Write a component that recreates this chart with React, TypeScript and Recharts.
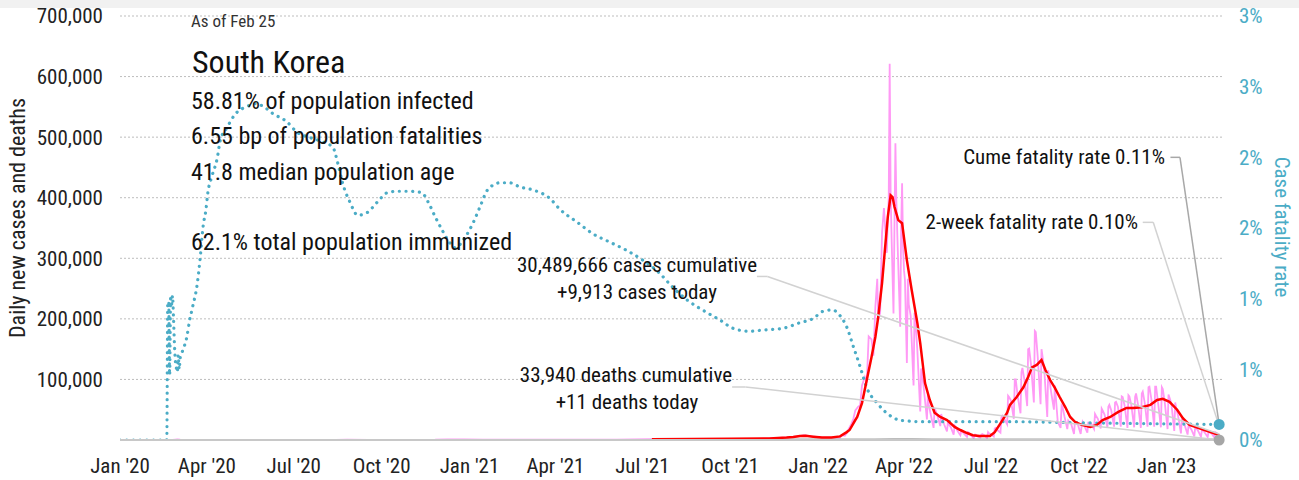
import React from "react";
import { LineChart, Line, XAxis, YAxis, CartesianGrid, ReferenceLine, ReferenceDot } from "recharts";

const FONT = "'Liberation Sans Narrow', 'Arial Narrow', 'Roboto Condensed', 'DejaVu Sans Condensed', sans-serif";
const BLUE = "#4bacc6";
const PINK = "#ff99f5";
const RED = "#ff0000";
const GREY = "#a6a6a6";
const LEADER = "#d2d2d2";
const LEADER_DARK = "#a8a8a8";

// x = days since 2020-01-01
const xTickDays = [0, 91, 182, 274, 366, 456, 547, 639, 731, 821, 912, 1004, 1096];
const xTickLabels = ["Jan '20", "Apr '20", "Jul '20", "Oct '20", "Jan '21", "Apr '21", "Jul '21", "Oct '21", "Jan '22", "Apr '22", "Jul '22", "Oct '22", "Jan '23"];
const leftTicks = [100000, 200000, 300000, 400000, 500000, 600000, 700000];
const rightTicks = [0, 0.5, 1, 1.5, 2, 2.5, 3];
const rightTickLabels = ["0%", "1%", "1%", "2%", "2%", "3%", "3%"];

// cumulative case fatality rate (%)
const cfrPoints: [number, number][] = [
  [0, 0], [49, 0], [50, 0.96], [51, 0.98], [52, 0.46], [53, 1.0], [54, 0.96], [55, 1.02], [56, 0.87], [57, 0.68], [58, 0.56],
  [59, 0.51], [60, 0.48], [61, 0.6], [62, 0.5], [63, 0.58], [65, 0.62], [70, 0.73], [73, 0.85], [76, 0.94], [81, 1.11],
  [84, 1.29], [87, 1.51], [90, 1.63], [92, 1.75], [96, 1.86], [102, 2.0], [105, 2.12], [112, 2.21], [120, 2.3], [133, 2.36],
  [143, 2.38], [150, 2.36], [160, 2.31], [175, 2.25], [185, 2.18], [199, 2.14], [212, 2.11], [223, 2.07], [228, 1.96],
  [233, 1.82], [241, 1.68], [249, 1.59], [259, 1.61], [269, 1.68], [280, 1.75], [290, 1.76], [304, 1.76], [316, 1.75],
  [323, 1.68], [330, 1.58], [337, 1.49], [346, 1.39], [351, 1.36], [361, 1.43], [370, 1.54], [377, 1.65], [385, 1.77],
  [398, 1.82], [408, 1.82], [419, 1.79], [432, 1.77], [450, 1.71], [461, 1.63], [479, 1.54], [495, 1.46], [513, 1.4],
  [531, 1.34], [548, 1.27], [565, 1.18], [579, 1.08], [594, 0.99], [610, 0.92], [628, 0.85], [642, 0.79], [658, 0.77],
  [677, 0.78], [694, 0.79], [712, 0.83], [726, 0.86], [736, 0.91], [746, 0.92], [754, 0.88], [761, 0.8], [768, 0.66],
  [775, 0.52], [782, 0.37], [793, 0.26], [803, 0.19], [817, 0.14], [838, 0.13], [921, 0.13], [1026, 0.12], [1151, 0.11],
];

// daily new cases
const casesDaily: [number, number][] = [
  [0, 0], [49, 0], [50, 70], [55, 250], [58, 600], [60, 900], [63, 500], [68, 350], [75, 100], [100, 40], [150, 40], [200, 50],
  [226, 200], [238, 400], [260, 100], [300, 100], [330, 400], [343, 1000], [360, 1000], [380, 500], [420, 450], [470, 650],
  [520, 550], [557, 1300], [585, 2000], [600, 1900], [630, 2000], [660, 1500], [680, 2600], [700, 4500], [712, 6500],
  [716, 7800], [724, 6000], [735, 4200], [745, 4000], [750, 4400],
  [754, 4000], [756, 8000], [759, 7000], [761, 11000], [763, 18000], [766, 27000], [768, 35000], [770, 49000], [773, 55000],
  [775, 57000], [777, 90000], [780, 104000], [782, 95000], [784, 171000], [787, 166000], [789, 139000], [791, 220000],
  [793, 266000], [794, 198000], [796, 210000], [798, 342000], [800, 383000], [803, 309000], [804, 362000], [805, 400000],
  [806, 621000], [807, 407000], [808, 334000], [810, 209000], [811, 353000], [812, 490000], [813, 395000], [814, 339000],
  [817, 187000], [818, 347000], [819, 424000], [820, 320000], [821, 280000], [822, 264000], [824, 127000], [825, 266000],
  [826, 224000], [828, 205000], [831, 90000], [832, 210000], [833, 195000], [835, 148000], [838, 47000], [839, 118000],
  [840, 111000], [842, 81000], [845, 34000], [846, 76000], [847, 57000], [849, 42000], [852, 20000], [853, 51000],
  [854, 49000], [856, 40000], [859, 23000], [860, 43000], [861, 35000], [863, 26000], [866, 14000], [867, 30000],
  [868, 26000], [870, 21000], [873, 9000], [874, 24000], [875, 22000], [877, 15000], [880, 8000], [881, 15000],
  [882, 14000], [884, 10000], [887, 5000], [888, 13000], [889, 12000], [891, 8000], [894, 3000], [895, 9000], [896, 9000],
  [898, 6000], [901, 4000], [902, 9000], [903, 10000], [905, 8000], [908, 3000], [909, 13000], [910, 11000], [912, 10000],
  [915, 6000], [916, 19000], [917, 20000], [919, 16000], [922, 12000], [923, 37000], [924, 40000], [926, 35000],
  [929, 26000], [930, 73000], [931, 71000], [933, 65000], [936, 35000], [937, 100000], [938, 100000], [940, 73000],
  [943, 44000], [944, 112000], [945, 119000], [947, 100000], [950, 56000], [951, 150000], [952, 151000], [954, 125000],
  [957, 62000], [958, 180000], [959, 178000], [961, 138000], [964, 59000], [965, 150000], [966, 139000], [968, 113000],
  [971, 38000], [972, 115000], [973, 103000], [975, 80000], [978, 50000], [979, 90000], [980, 70000], [982, 30000],
  [985, 20000], [986, 57000], [987, 55000], [989, 39000], [992, 18000], [993, 32000], [994, 30000], [996, 27000],
  [999, 10000], [1000, 30000], [1001, 28000], [1003, 26000], [1006, 10000], [1007, 23000], [1008, 30000], [1010, 23000],
  [1013, 12000], [1014, 30000], [1015, 26000], [1017, 27000], [1020, 18000], [1021, 43000], [1022, 40000], [1024, 35000],
  [1027, 19000], [1028, 52000], [1029, 49000], [1031, 42000], [1034, 21000], [1035, 55000], [1036, 58000], [1038, 49000],
  [1041, 22000], [1042, 62000], [1043, 63000], [1045, 55000], [1048, 22000], [1049, 72000], [1050, 71000], [1052, 57000],
  [1055, 20000], [1056, 74000], [1057, 72000], [1059, 58000], [1062, 21000], [1063, 71000], [1064, 77000], [1066, 59000],
  [1069, 20000], [1070, 77000], [1071, 80000], [1073, 62000], [1076, 22000], [1077, 87000], [1078, 88000], [1080, 68000],
  [1083, 22000], [1084, 88000], [1085, 88000], [1087, 62000], [1090, 21000], [1091, 87000], [1092, 84000], [1094, 63000],
  [1097, 18000], [1098, 75000], [1099, 70000], [1101, 60000], [1104, 15000], [1105, 62000], [1106, 53000], [1108, 40000],
  [1111, 11000], [1112, 35000], [1113, 30000], [1115, 24000], [1118, 9000], [1119, 25000], [1120, 22000], [1122, 17000],
  [1125, 6000], [1126, 22000], [1127, 20000], [1129, 15000], [1132, 5000], [1133, 17000], [1134, 16000], [1136, 12000],
  [1139, 5000], [1140, 14000], [1141, 13000], [1143, 11000], [1146, 4000], [1147, 13000], [1148, 12000], [1150, 10000],
  [1151, 9913],
];

// 7-day average of new cases
const casesAvg: [number, number][] = [
  [557, 1200], [600, 1700], [640, 2000], [680, 2600], [698, 4000], [705, 5000], [712, 6500], [718, 7000], [726, 5500],
  [735, 4000], [745, 4000], [754, 6000], [761, 13000], [764, 16500], [770, 33000], [772, 38000], [777, 61000], [782, 99000],
  [787, 137000], [791, 170000], [794, 203000], [798, 259000], [801, 314000], [804, 368000], [807, 404000], [809, 401000],
  [811, 385000], [815, 363000], [819, 358000], [824, 297000], [829, 248000], [835, 193000], [838, 160000], [843, 94000],
  [848, 66000], [853, 45000], [859, 38000], [866, 33000], [874, 21500], [880, 16500], [887, 11500], [893, 8000],
  [900, 6600], [911, 6600], [916, 13000], [921, 25000], [929, 45000], [932, 58000], [939, 71000], [946, 87000],
  [951, 104000], [955, 120000], [960, 124000], [965, 132000], [969, 116000], [974, 99000], [979, 86000], [984, 71000],
  [990, 54000], [995, 38000], [1000, 30000], [1007, 25000], [1016, 21500], [1023, 25000], [1029, 33000], [1037, 38000],
  [1045, 46000], [1054, 53000], [1061, 53000], [1070, 54000], [1079, 58000], [1086, 66000], [1092, 68000], [1099, 63000],
  [1107, 50000], [1113, 36000], [1120, 25000], [1129, 20000], [1138, 15000], [1145, 11500], [1151, 8000],
];

// daily deaths and their 7-day average
const deathsDaily: [number, number][] = [
  [0, 0], [50, 1], [60, 5], [100, 2], [240, 5], [350, 20], [365, 25], [420, 5], [557, 2], [640, 10], [700, 60], [720, 70],
  [740, 40], [790, 120], [805, 330], [815, 350], [830, 250], [850, 80], [880, 20], [930, 15], [960, 60], [980, 55],
  [1000, 30], [1060, 45], [1090, 55], [1120, 25], [1151, 11],
];
const deathsAvg: [number, number][] = [
  [557, 2], [640, 10], [700, 55], [720, 65], [740, 40], [790, 110], [810, 320], [830, 250], [850, 80], [880, 20],
  [930, 15], [960, 60], [980, 55], [1000, 30], [1060, 45], [1090, 55], [1120, 25], [1151, 11],
];

const toRows = (pts: [number, number][]) => pts.map(([d, v]) => ({ d, v }));

const W = 1299;
const H = 480;

type TxtProps = { x: number; y: number; size: number; anchor?: "start" | "middle" | "end"; color?: string; children: React.ReactNode };
const Txt = ({ x, y, size, anchor = "start", color = "#111", children }: TxtProps) => {
  const style: React.CSSProperties = {
    position: "absolute",
    top: y - size * 0.49,
    fontSize: size,
    lineHeight: 1,
    fontFamily: FONT,
    color,
    whiteSpace: "nowrap",
  };
  if (anchor === "start") style.left = x;
  else if (anchor === "end") style.right = W - x;
  else {
    style.left = x;
    style.transform = "translateX(-50%)";
  }
  return <div style={style}>{children}</div>;
};

const VTxt = ({ x, y, size, angle, color, children }: { x: number; y: number; size: number; angle: number; color: string; children: React.ReactNode }) => (
  <div
    style={{
      position: "absolute",
      left: x,
      top: y,
      transform: `translate(-50%, -50%) rotate(${angle}deg)`,
      fontSize: size,
      lineHeight: 1,
      fontFamily: FONT,
      color,
      whiteSpace: "nowrap",
    }}
  >
    {children}
  </div>
);

const fmtThousands = (v: number) => v.toLocaleString("en-US");

export default function App() {
  const tickStyle = { fontSize: 21, fill: "#222", fontFamily: FONT };
  return (
    <div style={{ position: "absolute", left: 0, top: 0, width: W, height: H, background: "#fff", overflow: "hidden" }}>
      <LineChart width={W} height={H} margin={{ top: 16, right: 0, bottom: 0, left: 0 }}>
        <CartesianGrid vertical={false} yAxisId="left" stroke="#bdbdbd" strokeDasharray="2 2" />
        <XAxis
          type="number"
          dataKey="d"
          domain={[0, 1154]}
          ticks={xTickDays}
          interval={0}
          tickFormatter={(v: number) => xTickLabels[xTickDays.indexOf(v)]}
          axisLine={{ stroke: "#c8c8c8", strokeWidth: 2 }}
          tickLine={false}
          tickSize={0}
          tickMargin={18}
          height={40}
          tick={tickStyle}
          allowDataOverflow
        />
        <YAxis
          yAxisId="left"
          domain={[0, 700000]}
          ticks={leftTicks}
          interval={0}
          tickFormatter={fmtThousands}
          axisLine={false}
          tickLine={false}
          tickSize={0}
          tickMargin={17}
          width={120}
          tick={tickStyle}
          allowDataOverflow
        />
        <YAxis
          yAxisId="right"
          orientation="right"
          domain={[0, 3]}
          ticks={rightTicks}
          interval={0}
          tickFormatter={(v: number) => rightTickLabels[rightTicks.indexOf(v)]}
          axisLine={false}
          tickLine={false}
          tickSize={0}
          tickMargin={17}
          width={77}
          tick={{ ...tickStyle, fill: BLUE }}
          allowDataOverflow
        />
        <Line data={toRows(deathsDaily)} dataKey="v" yAxisId="left" type="linear" stroke="#bdbdbd" strokeWidth={1} dot={false} isAnimationActive={false} />
        <Line data={toRows(casesDaily)} dataKey="v" yAxisId="left" type="linear" stroke={PINK} strokeWidth={1.8} dot={false} isAnimationActive={false} />
        <Line data={toRows(deathsAvg)} dataKey="v" yAxisId="left" type="linear" stroke={GREY} strokeWidth={3} dot={false} isAnimationActive={false} />
        <Line
          data={toRows(cfrPoints)}
          dataKey="v"
          yAxisId="right"
          type="monotone"
          stroke={BLUE}
          strokeWidth={3.2}
          strokeDasharray="0.1 6.6"
          strokeLinecap="round"
          dot={false}
          isAnimationActive={false}
        />
        <Line data={toRows(casesAvg)} dataKey="v" yAxisId="left" type="linear" stroke={RED} strokeWidth={2.5} dot={false} isAnimationActive={false} />

        <ReferenceLine yAxisId="left" segment={[{ x: 667, y: 270000 }, { x: 678, y: 270000 }]} stroke={LEADER} strokeWidth={1.5} ifOverflow="visible" />
        <ReferenceLine yAxisId="left" segment={[{ x: 678, y: 270000 }, { x: 1151, y: 9913 }]} stroke={LEADER} strokeWidth={1.5} ifOverflow="visible" />
        <ReferenceLine yAxisId="left" segment={[{ x: 641, y: 87500 }, { x: 655, y: 87500 }]} stroke={LEADER} strokeWidth={1.5} ifOverflow="visible" />
        <ReferenceLine yAxisId="left" segment={[{ x: 655, y: 87500 }, { x: 1151, y: 11 }]} stroke={LEADER} strokeWidth={1.5} ifOverflow="visible" />
        <ReferenceLine yAxisId="right" segment={[{ x: 1071, y: 1.54 }, { x: 1082, y: 1.54 }]} stroke={LEADER} strokeWidth={1.5} ifOverflow="visible" />
        <ReferenceLine yAxisId="right" segment={[{ x: 1082, y: 1.54 }, { x: 1151, y: 0.1 }]} stroke={LEADER} strokeWidth={1.5} ifOverflow="visible" />
        <ReferenceLine yAxisId="right" segment={[{ x: 1100, y: 2.0 }, { x: 1110, y: 2.0 }]} stroke={LEADER_DARK} strokeWidth={1.5} ifOverflow="visible" />
        <ReferenceLine yAxisId="right" segment={[{ x: 1110, y: 2.0 }, { x: 1151, y: 0.11 }]} stroke={LEADER_DARK} strokeWidth={1.5} ifOverflow="visible" />

        <ReferenceDot yAxisId="right" x={1151} y={0.11} r={5.5} fill={BLUE} stroke="none" ifOverflow="visible" />
        <ReferenceDot yAxisId="left" x={1151} y={11} r={5.5} fill={GREY} stroke="none" ifOverflow="visible" />
      </LineChart>

      <div style={{ position: "absolute", left: 0, top: 0, width: W, height: 8, background: "#f1f1f1" }} />

      <Txt x={191} y={21.7} size={17} color="#333">As of Feb 25</Txt>
      <Txt x={192} y={62} size={32}>South Korea</Txt>
      <Txt x={191} y={101} size={24}>58.81% of population infected</Txt>
      <Txt x={191} y={136} size={24}>6.55 bp of population fatalities</Txt>
      <Txt x={191} y={172} size={24}>41.8 median population age</Txt>
      <Txt x={191} y={242} size={24}>62.1% total population immunized</Txt>

      <Txt x={637} y={265} size={21} anchor="middle">30,489,666 cases cumulative</Txt>
      <Txt x={637} y={292} size={21} anchor="middle">+9,913 cases today</Txt>
      <Txt x={626} y={375} size={21} anchor="middle">33,940 deaths cumulative</Txt>
      <Txt x={627} y={402} size={21} anchor="middle">+11 deaths today</Txt>
      <Txt x={1165} y={157} size={21} anchor="end">Cume fatality rate 0.11%</Txt>
      <Txt x={1138} y={222} size={21} anchor="end">2-week fatality rate 0.10%</Txt>

      <VTxt x={18} y={218} size={22} angle={-90} color="#222">Daily new cases and deaths</VTxt>
      <VTxt x={1281} y={227} size={21} angle={90} color={BLUE}>Case fatality rate</VTxt>
    </div>
  );
}
